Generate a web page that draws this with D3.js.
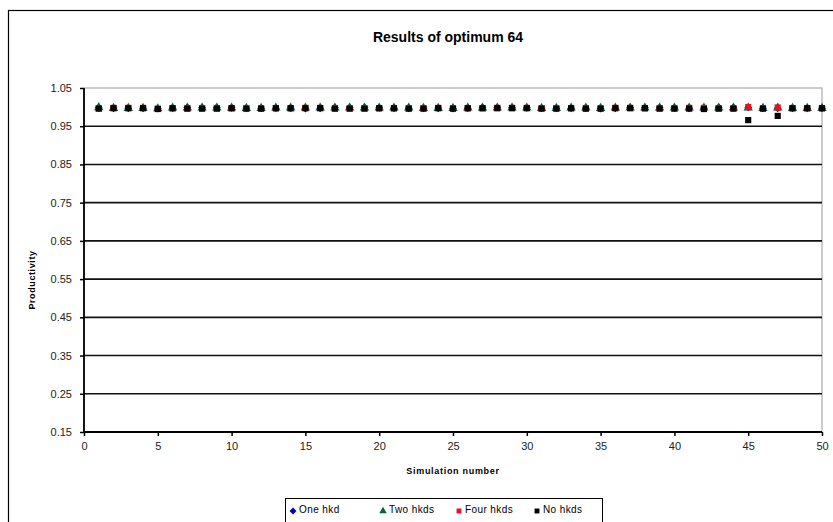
<!DOCTYPE html>
<html>
<head>
<meta charset="UTF-8">
<title>Results of optimum 64</title>
<style>
  body { margin: 0; background: #fff; }
  text { font-family: "Liberation Sans", Arial, sans-serif; }
</style>
</head>
<body>
<script src="https://cdn.jsdelivr.net/npm/d3@7"></script>
<script>
// simulation numbers 1..50
var sims = [1,2,3,4,5,6,7,8,9,10,11,12,13,14,15,16,17,18,19,20,21,22,23,24,25,
            26,27,28,29,30,31,32,33,34,35,36,37,38,39,40,41,42,43,44,45,46,47,48,49,50];

var oneHkd  = [0.998,0.997,0.997,0.997,0.996,0.997,0.999,0.999,0.999,0.998,0.997,0.997,0.997,0.997,0.996,0.997,0.999,0.999,0.999,0.998,
               0.997,0.997,0.997,0.997,0.996,0.997,0.999,0.999,0.999,0.998,0.997,0.997,0.997,0.997,0.996,0.997,0.999,0.999,0.999,0.998,
               0.997,0.997,0.999,0.999,0.999,0.997,0.997,0.997,0.997,0.997];
var twoHkds = [0.999,0.997,0.997,0.997,0.996,0.998,0.998,0.998,0.998,0.998,0.997,0.997,0.998,0.998,0.998,0.998,0.998,0.998,0.998,0.998,
               0.998,0.998,0.997,0.997,0.997,0.998,0.998,0.998,0.998,0.998,0.997,0.997,0.998,0.998,0.997,0.998,0.998,0.998,0.998,0.998,
               0.998,0.998,0.998,0.998,0.998,0.997,0.998,0.997,0.997,0.997];
var fourHkds = [0.997,0.998,0.998,0.998,0.996,0.997,0.997,0.997,0.997,0.997,0.997,0.997,0.997,0.997,0.998,0.998,0.997,0.997,0.997,0.997,
               0.997,0.997,0.997,0.998,0.997,0.997,0.997,0.998,0.998,0.998,0.997,0.997,0.997,0.997,0.997,0.998,0.998,0.997,0.997,0.997,
               0.998,0.998,0.997,0.997,1.000,0.997,0.999,0.997,0.997,0.997];
var noHkds  = [0.996,0.997,0.997,0.997,0.995,0.997,0.996,0.996,0.996,0.997,0.996,0.996,0.997,0.997,0.997,0.997,0.996,0.996,0.996,0.997,
               0.997,0.996,0.996,0.997,0.996,0.997,0.997,0.997,0.997,0.997,0.996,0.996,0.997,0.996,0.996,0.997,0.997,0.997,0.996,0.996,
               0.996,0.995,0.996,0.996,0.966,0.996,0.977,0.997,0.997,0.997];

var seriesNames = ["One hkd", "Two hkds", "Four hkds", "No hkds"];
var seriesData = [oneHkd, twoHkds, fourHkds, noHkds];
var seriesColors = ["#0000cc", "#006633", "#e8101e", "#000000"];
var seriesShapes = [d3.symbolSquare, d3.symbolTriangle, d3.symbolSquare, d3.symbolSquare];
var seriesRotate = [45, 0, 0, 0];

var xTicks = [0,5,10,15,20,25,30,35,40,45,50];
var yTicks = [0.15,0.25,0.35,0.45,0.55,0.65,0.75,0.85,0.95,1.05];

(function() {
  var W = 833, H = 522;
  var svg = d3.select("body").append("svg")
    .attr("width", W)
    .attr("height", H);

  // outer chart frame
  svg.append("rect")
    .attr("x", 8.5).attr("y", 10.5)
    .attr("width", 840).attr("height", 530)
    .attr("fill", "#fff")
    .attr("stroke", "#000")
    .attr("stroke-width", 1.2);

  var pLeft = 84, pRight = 822, pTop = 88, pBottom = 432;

  var x = d3.scaleLinear().domain([0, 50]).range([pLeft, pRight]);
  var y = d3.scaleLinear().domain([0.15, 1.05]).range([pBottom, pTop]);

  // plot area border
  svg.append("rect")
    .attr("x", pLeft).attr("y", pTop)
    .attr("width", pRight - pLeft).attr("height", pBottom - pTop)
    .attr("fill", "none")
    .attr("stroke", "#999")
    .attr("stroke-width", 1);

  // gridlines
  svg.append("g").selectAll("line")
    .data(yTicks.slice(1, -1))
    .enter().append("line")
    .attr("x1", pLeft).attr("x2", pRight)
    .attr("y1", function(d) { return y(d); })
    .attr("y2", function(d) { return y(d); })
    .attr("stroke", "#111")
    .attr("stroke-width", 1.6);

  // axes
  var yAxis = svg.append("g")
    .attr("transform", "translate(" + pLeft + ",0)")
    .call(d3.axisLeft(y).tickValues(yTicks).tickSize(4).tickPadding(8)
      .tickFormat(d3.format(".2f")));
  var xAxis = svg.append("g")
    .attr("transform", "translate(0," + pBottom + ")")
    .call(d3.axisBottom(x).tickValues(xTicks).tickSize(4).tickPadding(6));

  [xAxis, yAxis].forEach(function(a) {
    a.select(".domain").attr("stroke", "#000").attr("stroke-width", 1.8);
    a.selectAll(".tick line").attr("stroke", "#000").attr("stroke-width", 1.5);
    a.selectAll(".tick text").attr("font-size", 11).attr("fill", "#222");
  });
  xAxis.select(".domain").attr("d", "M" + pLeft + ",0H" + pRight);
  yAxis.select(".domain").attr("d", "M0," + pTop + "V" + pBottom);

  // points
  seriesData.forEach(function(vals, i) {
    svg.append("g").selectAll("path")
      .data(vals)
      .enter().append("path")
      .attr("d", d3.symbol().type(seriesShapes[i]).size(i === 0 ? 30 : 38))
      .attr("transform", function(d, j) {
        return "translate(" + x(sims[j]) + "," + y(d) + ") rotate(" + seriesRotate[i] + ")";
      })
      .attr("fill", seriesColors[i]);
  });

  // title
  svg.append("text")
    .attr("x", 448).attr("y", 42)
    .attr("text-anchor", "middle")
    .attr("font-size", 14).attr("font-weight", "bold")
    .text("Results of optimum 64");

  // axis titles
  svg.append("text")
    .attr("x", 453).attr("y", 474)
    .attr("text-anchor", "middle")
    .attr("font-size", 9).attr("font-weight", "bold")
    .attr("letter-spacing", 0.7)
    .text("Simulation number");

  svg.append("text")
    .attr("transform", "translate(35,280) rotate(-90)")
    .attr("text-anchor", "middle")
    .attr("font-size", 9).attr("font-weight", "bold")
    .attr("letter-spacing", 0.6)
    .text("Productivity");

  // legend
  var legend = svg.append("g");
  legend.append("rect")
    .attr("x", 285.5).attr("y", 498.5)
    .attr("width", 317).attr("height", 40)
    .attr("fill", "#fff")
    .attr("stroke", "#000").attr("stroke-width", 1);

  var legX = [293, 383, 459, 537];
  seriesNames.forEach(function(name, i) {
    var g = legend.append("g").attr("transform", "translate(" + legX[i] + ",511)");
    g.append("path")
      .attr("d", d3.symbol().type(seriesShapes[i]).size(24))
      .attr("transform", "rotate(" + seriesRotate[i] + ")")
      .attr("fill", seriesColors[i]);
    g.append("text")
      .attr("x", 6).attr("y", 2)
      .attr("font-size", 10)
      .attr("letter-spacing", 0.4)
      .text(name);
  });
})();
</script>
</body>
</html>
